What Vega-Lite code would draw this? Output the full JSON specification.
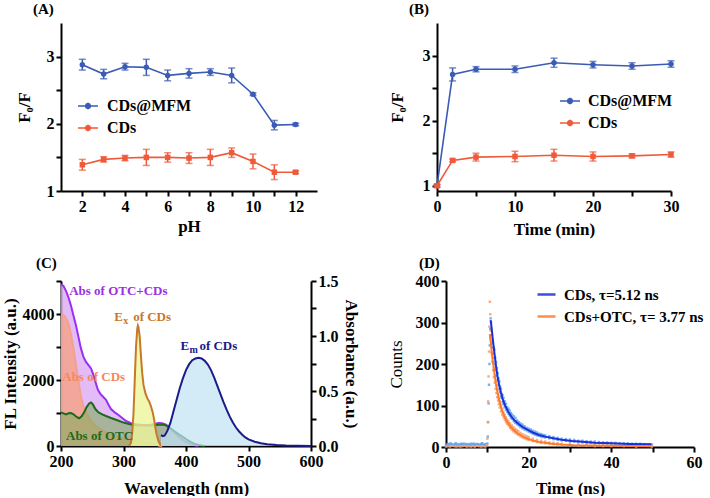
{
  "$schema": "https://vega.github.io/schema/vega-lite/v6.json",
  "padding": {"left": 1, "top": 2, "right": 0, "bottom": 0},
  "config": {
    "font": "Liberation Serif",
    "view": {"stroke": null},
    "axis": {"domainColor": "#000", "domainWidth": 2, "tickColor": "#000", "tickWidth": 2, "tickSize": 5, "labelFont": "Liberation Serif", "labelFontWeight": "bold", "labelFontSize": 16, "labelColor": "#000", "titleFont": "Liberation Serif", "titleFontWeight": "bold", "titleFontSize": 17, "titleColor": "#000", "grid": false, "labelPadding": 2, "titlePadding": 8, "labelFlush": false, "labelOverlap": false},
    "title": {"font": "Liberation Serif", "fontSize": 15, "fontWeight": "bold", "anchor": "start", "frame": "group", "color": "#000", "offset": 6},
    "legend": {"labelFont": "Liberation Serif", "labelFontWeight": "bold", "labelColor": "#000", "title": null}
  },
  "datasets": {
    "ph": [
      {"pH": 2, "series": "CDs@MFM", "value": 2.88, "err": 0.08},
      {"pH": 3, "series": "CDs@MFM", "value": 2.74, "err": 0.07},
      {"pH": 4, "series": "CDs@MFM", "value": 2.85, "err": 0.05},
      {"pH": 5, "series": "CDs@MFM", "value": 2.84, "err": 0.12},
      {"pH": 6, "series": "CDs@MFM", "value": 2.72, "err": 0.08},
      {"pH": 7, "series": "CDs@MFM", "value": 2.75, "err": 0.07},
      {"pH": 8, "series": "CDs@MFM", "value": 2.77, "err": 0.05},
      {"pH": 9, "series": "CDs@MFM", "value": 2.72, "err": 0.11},
      {"pH": 10, "series": "CDs@MFM", "value": 2.44, "err": 0.02},
      {"pH": 11, "series": "CDs@MFM", "value": 1.98, "err": 0.07},
      {"pH": 12, "series": "CDs@MFM", "value": 1.99, "err": 0.02},
      {"pH": 2, "series": "CDs", "value": 1.39, "err": 0.08},
      {"pH": 3, "series": "CDs", "value": 1.47, "err": 0.04},
      {"pH": 4, "series": "CDs", "value": 1.49, "err": 0.04},
      {"pH": 5, "series": "CDs", "value": 1.5, "err": 0.12},
      {"pH": 6, "series": "CDs", "value": 1.5, "err": 0.07},
      {"pH": 7, "series": "CDs", "value": 1.49, "err": 0.08},
      {"pH": 8, "series": "CDs", "value": 1.5, "err": 0.12},
      {"pH": 9, "series": "CDs", "value": 1.57, "err": 0.07},
      {"pH": 10, "series": "CDs", "value": 1.44, "err": 0.11},
      {"pH": 11, "series": "CDs", "value": 1.28, "err": 0.11},
      {"pH": 12, "series": "CDs", "value": 1.28, "err": 0.02}
    ],
    "time": [
      {"t": 0, "series": "CDs@MFM", "value": 1.0, "err": 0.02},
      {"t": 2, "series": "CDs@MFM", "value": 2.71, "err": 0.1},
      {"t": 5, "series": "CDs@MFM", "value": 2.79, "err": 0.04},
      {"t": 10, "series": "CDs@MFM", "value": 2.79, "err": 0.05},
      {"t": 15, "series": "CDs@MFM", "value": 2.89, "err": 0.07},
      {"t": 20, "series": "CDs@MFM", "value": 2.86, "err": 0.05},
      {"t": 25, "series": "CDs@MFM", "value": 2.84, "err": 0.05},
      {"t": 30, "series": "CDs@MFM", "value": 2.87, "err": 0.05},
      {"t": 0, "series": "CDs", "value": 1.0, "err": 0.02},
      {"t": 2, "series": "CDs", "value": 1.39, "err": 0.02},
      {"t": 5, "series": "CDs", "value": 1.44, "err": 0.06},
      {"t": 10, "series": "CDs", "value": 1.45, "err": 0.08},
      {"t": 15, "series": "CDs", "value": 1.47, "err": 0.09},
      {"t": 20, "series": "CDs", "value": 1.45, "err": 0.07},
      {"t": 25, "series": "CDs", "value": 1.46, "err": 0.03},
      {"t": 30, "series": "CDs", "value": 1.48, "err": 0.04}
    ],
    "abs": [
      {"wl": 200, "curve": "OTC+CDs", "a": 1.47}, {"wl": 204, "curve": "OTC+CDs", "a": 1.455}, {"wl": 208, "curve": "OTC+CDs", "a": 1.41}, {"wl": 212, "curve": "OTC+CDs", "a": 1.35}, {"wl": 216, "curve": "OTC+CDs", "a": 1.275}, {"wl": 220, "curve": "OTC+CDs", "a": 1.185}, {"wl": 224, "curve": "OTC+CDs", "a": 1.095}, {"wl": 228, "curve": "OTC+CDs", "a": 0.99}, {"wl": 232, "curve": "OTC+CDs", "a": 0.885}, {"wl": 236, "curve": "OTC+CDs", "a": 0.81}, {"wl": 240, "curve": "OTC+CDs", "a": 0.765}, {"wl": 244, "curve": "OTC+CDs", "a": 0.735}, {"wl": 248, "curve": "OTC+CDs", "a": 0.705}, {"wl": 251, "curve": "OTC+CDs", "a": 0.66}, {"wl": 255, "curve": "OTC+CDs", "a": 0.585}, {"wl": 259, "curve": "OTC+CDs", "a": 0.51}, {"wl": 263, "curve": "OTC+CDs", "a": 0.474}, {"wl": 267, "curve": "OTC+CDs", "a": 0.45}, {"wl": 272, "curve": "OTC+CDs", "a": 0.42}, {"wl": 276, "curve": "OTC+CDs", "a": 0.375}, {"wl": 280, "curve": "OTC+CDs", "a": 0.336}, {"wl": 286, "curve": "OTC+CDs", "a": 0.306}, {"wl": 292, "curve": "OTC+CDs", "a": 0.282}, {"wl": 298, "curve": "OTC+CDs", "a": 0.255}, {"wl": 304, "curve": "OTC+CDs", "a": 0.228}, {"wl": 312, "curve": "OTC+CDs", "a": 0.207}, {"wl": 320, "curve": "OTC+CDs", "a": 0.198}, {"wl": 330, "curve": "OTC+CDs", "a": 0.192}, {"wl": 341, "curve": "OTC+CDs", "a": 0.192}, {"wl": 350, "curve": "OTC+CDs", "a": 0.201}, {"wl": 356, "curve": "OTC+CDs", "a": 0.21}, {"wl": 362, "curve": "OTC+CDs", "a": 0.207}, {"wl": 368, "curve": "OTC+CDs", "a": 0.195}, {"wl": 373, "curve": "OTC+CDs", "a": 0.171}, {"wl": 380, "curve": "OTC+CDs", "a": 0.129}, {"wl": 390, "curve": "OTC+CDs", "a": 0.075}, {"wl": 400, "curve": "OTC+CDs", "a": 0.036}, {"wl": 410, "curve": "OTC+CDs", "a": 0.012}, {"wl": 420, "curve": "OTC+CDs", "a": 0},
      {"wl": 200, "curve": "CDs", "a": 1.2}, {"wl": 204, "curve": "CDs", "a": 1.19}, {"wl": 208, "curve": "CDs", "a": 1.164}, {"wl": 212, "curve": "CDs", "a": 1.11}, {"wl": 216, "curve": "CDs", "a": 1.014}, {"wl": 220, "curve": "CDs", "a": 0.885}, {"wl": 224, "curve": "CDs", "a": 0.735}, {"wl": 228, "curve": "CDs", "a": 0.585}, {"wl": 232, "curve": "CDs", "a": 0.45}, {"wl": 236, "curve": "CDs", "a": 0.36}, {"wl": 240, "curve": "CDs", "a": 0.306}, {"wl": 245, "curve": "CDs", "a": 0.255}, {"wl": 250, "curve": "CDs", "a": 0.216}, {"wl": 258, "curve": "CDs", "a": 0.174}, {"wl": 266, "curve": "CDs", "a": 0.141}, {"wl": 275, "curve": "CDs", "a": 0.114}, {"wl": 285, "curve": "CDs", "a": 0.093}, {"wl": 295, "curve": "CDs", "a": 0.075}, {"wl": 310, "curve": "CDs", "a": 0.057}, {"wl": 325, "curve": "CDs", "a": 0.042}, {"wl": 340, "curve": "CDs", "a": 0.027}, {"wl": 350, "curve": "CDs", "a": 0.015}, {"wl": 358, "curve": "CDs", "a": 0.003}, {"wl": 362, "curve": "CDs", "a": 0},
      {"wl": 200, "curve": "OTC", "a": 0.306}, {"wl": 204, "curve": "OTC", "a": 0.297}, {"wl": 208, "curve": "OTC", "a": 0.288}, {"wl": 212, "curve": "OTC", "a": 0.297}, {"wl": 216, "curve": "OTC", "a": 0.3}, {"wl": 220, "curve": "OTC", "a": 0.288}, {"wl": 225, "curve": "OTC", "a": 0.264}, {"wl": 229, "curve": "OTC", "a": 0.252}, {"wl": 233, "curve": "OTC", "a": 0.27}, {"wl": 237, "curve": "OTC", "a": 0.306}, {"wl": 241, "curve": "OTC", "a": 0.354}, {"wl": 245, "curve": "OTC", "a": 0.387}, {"wl": 248, "curve": "OTC", "a": 0.396}, {"wl": 251, "curve": "OTC", "a": 0.378}, {"wl": 255, "curve": "OTC", "a": 0.336}, {"wl": 260, "curve": "OTC", "a": 0.306}, {"wl": 266, "curve": "OTC", "a": 0.288}, {"wl": 272, "curve": "OTC", "a": 0.273}, {"wl": 280, "curve": "OTC", "a": 0.255}, {"wl": 290, "curve": "OTC", "a": 0.234}, {"wl": 300, "curve": "OTC", "a": 0.213}, {"wl": 310, "curve": "OTC", "a": 0.198}, {"wl": 320, "curve": "OTC", "a": 0.189}, {"wl": 335, "curve": "OTC", "a": 0.186}, {"wl": 350, "curve": "OTC", "a": 0.189}, {"wl": 360, "curve": "OTC", "a": 0.195}, {"wl": 366, "curve": "OTC", "a": 0.192}, {"wl": 372, "curve": "OTC", "a": 0.174}, {"wl": 380, "curve": "OTC", "a": 0.141}, {"wl": 388, "curve": "OTC", "a": 0.108}, {"wl": 396, "curve": "OTC", "a": 0.078}, {"wl": 404, "curve": "OTC", "a": 0.048}, {"wl": 412, "curve": "OTC", "a": 0.024}, {"wl": 420, "curve": "OTC", "a": 0.009}, {"wl": 430, "curve": "OTC", "a": 0}
    ],
    "fl": [
      {"wl": 309, "curve": "Ex", "v": 0}, {"wl": 312, "curve": "Ex", "v": 100}, {"wl": 314, "curve": "Ex", "v": 400}, {"wl": 316, "curve": "Ex", "v": 1000}, {"wl": 318, "curve": "Ex", "v": 2000}, {"wl": 320, "curve": "Ex", "v": 3000}, {"wl": 322, "curve": "Ex", "v": 3550}, {"wl": 323, "curve": "Ex", "v": 3650}, {"wl": 324, "curve": "Ex", "v": 3600}, {"wl": 326, "curve": "Ex", "v": 3300}, {"wl": 328, "curve": "Ex", "v": 2700}, {"wl": 330, "curve": "Ex", "v": 2200}, {"wl": 332, "curve": "Ex", "v": 1850}, {"wl": 335, "curve": "Ex", "v": 1600}, {"wl": 338, "curve": "Ex", "v": 1450}, {"wl": 341, "curve": "Ex", "v": 1350}, {"wl": 344, "curve": "Ex", "v": 1200}, {"wl": 347, "curve": "Ex", "v": 1000}, {"wl": 349, "curve": "Ex", "v": 800}, {"wl": 351, "curve": "Ex", "v": 550}, {"wl": 353, "curve": "Ex", "v": 350}, {"wl": 356, "curve": "Ex", "v": 150}, {"wl": 360, "curve": "Ex", "v": 0},
      {"wl": 360, "curve": "Em", "v": 330}, {"wl": 363, "curve": "Em", "v": 300}, {"wl": 366, "curve": "Em", "v": 320}, {"wl": 370, "curve": "Em", "v": 450}, {"wl": 375, "curve": "Em", "v": 700}, {"wl": 380, "curve": "Em", "v": 1050}, {"wl": 385, "curve": "Em", "v": 1400}, {"wl": 390, "curve": "Em", "v": 1750}, {"wl": 395, "curve": "Em", "v": 2050}, {"wl": 400, "curve": "Em", "v": 2300}, {"wl": 405, "curve": "Em", "v": 2480}, {"wl": 410, "curve": "Em", "v": 2600}, {"wl": 415, "curve": "Em", "v": 2650}, {"wl": 420, "curve": "Em", "v": 2670}, {"wl": 425, "curve": "Em", "v": 2650}, {"wl": 430, "curve": "Em", "v": 2580}, {"wl": 435, "curve": "Em", "v": 2470}, {"wl": 440, "curve": "Em", "v": 2300}, {"wl": 445, "curve": "Em", "v": 2080}, {"wl": 450, "curve": "Em", "v": 1830}, {"wl": 455, "curve": "Em", "v": 1580}, {"wl": 460, "curve": "Em", "v": 1330}, {"wl": 465, "curve": "Em", "v": 1100}, {"wl": 470, "curve": "Em", "v": 890}, {"wl": 475, "curve": "Em", "v": 710}, {"wl": 480, "curve": "Em", "v": 560}, {"wl": 485, "curve": "Em", "v": 440}, {"wl": 490, "curve": "Em", "v": 340}, {"wl": 495, "curve": "Em", "v": 260}, {"wl": 500, "curve": "Em", "v": 200}, {"wl": 510, "curve": "Em", "v": 130}, {"wl": 520, "curve": "Em", "v": 85}, {"wl": 530, "curve": "Em", "v": 55}, {"wl": 545, "curve": "Em", "v": 30}, {"wl": 560, "curve": "Em", "v": 15}, {"wl": 580, "curve": "Em", "v": 5}, {"wl": 600, "curve": "Em", "v": 2}
    ],
    "notes": [
      {"wl": 213, "v": 4700, "key": "OTC+CDs", "main": "Abs of OTC+CDs", "sub": "", "rest": ""},
      {"wl": 285, "v": 3900, "key": "Ex", "main": "E", "sub": "x", "rest": "of CDs"},
      {"wl": 391, "v": 3030, "key": "Em", "main": "E", "sub": "m", "rest": "of CDs"},
      {"wl": 202, "v": 2100, "key": "CDs", "main": "Abs of CDs", "sub": "", "rest": ""},
      {"wl": 208, "v": 300, "key": "OTC", "main": "Abs of OTC", "sub": "", "rest": ""}
    ],
    "fit": [
      {"t": 10.8, "c": 306, "s": "CDs"}, {"t": 11.0, "c": 290, "s": "CDs"}, {"t": 11.3, "c": 262, "s": "CDs"}, {"t": 11.7, "c": 228, "s": "CDs"}, {"t": 12.1, "c": 195, "s": "CDs"}, {"t": 12.5, "c": 168, "s": "CDs"}, {"t": 12.9, "c": 148, "s": "CDs"}, {"t": 13.3, "c": 131, "s": "CDs"}, {"t": 13.7, "c": 116, "s": "CDs"}, {"t": 14.3, "c": 100, "s": "CDs"}, {"t": 15.0, "c": 86, "s": "CDs"}, {"t": 15.7, "c": 75, "s": "CDs"}, {"t": 16.5, "c": 65, "s": "CDs"}, {"t": 17.5, "c": 56, "s": "CDs"}, {"t": 18.6, "c": 48, "s": "CDs"}, {"t": 19.8, "c": 41, "s": "CDs"}, {"t": 21.0, "c": 35, "s": "CDs"}, {"t": 22.5, "c": 29, "s": "CDs"}, {"t": 24.0, "c": 25, "s": "CDs"}, {"t": 26.0, "c": 21, "s": "CDs"}, {"t": 28.0, "c": 17.5, "s": "CDs"}, {"t": 30.5, "c": 14.5, "s": "CDs"}, {"t": 33.0, "c": 12.5, "s": "CDs"}, {"t": 36.0, "c": 10.5, "s": "CDs"}, {"t": 40.0, "c": 9, "s": "CDs"}, {"t": 44.0, "c": 7.5, "s": "CDs"}, {"t": 49.7, "c": 6.5, "s": "CDs"},
      {"t": 10.6, "c": 272, "s": "CDs+OTC"}, {"t": 10.8, "c": 255, "s": "CDs+OTC"}, {"t": 11.0, "c": 235, "s": "CDs+OTC"}, {"t": 11.3, "c": 208, "s": "CDs+OTC"}, {"t": 11.7, "c": 180, "s": "CDs+OTC"}, {"t": 12.1, "c": 152, "s": "CDs+OTC"}, {"t": 12.5, "c": 130, "s": "CDs+OTC"}, {"t": 12.9, "c": 112, "s": "CDs+OTC"}, {"t": 13.3, "c": 96, "s": "CDs+OTC"}, {"t": 13.7, "c": 84, "s": "CDs+OTC"}, {"t": 14.3, "c": 70, "s": "CDs+OTC"}, {"t": 15.0, "c": 58, "s": "CDs+OTC"}, {"t": 15.7, "c": 48, "s": "CDs+OTC"}, {"t": 16.5, "c": 40, "s": "CDs+OTC"}, {"t": 17.5, "c": 32, "s": "CDs+OTC"}, {"t": 18.6, "c": 25, "s": "CDs+OTC"}, {"t": 19.8, "c": 20, "s": "CDs+OTC"}, {"t": 21.0, "c": 15.5, "s": "CDs+OTC"}, {"t": 22.5, "c": 12, "s": "CDs+OTC"}, {"t": 24.0, "c": 10, "s": "CDs+OTC"}, {"t": 26.0, "c": 7.5, "s": "CDs+OTC"}, {"t": 28.0, "c": 6, "s": "CDs+OTC"}, {"t": 31.0, "c": 4.5, "s": "CDs+OTC"}, {"t": 35.0, "c": 3.5, "s": "CDs+OTC"}, {"t": 40.0, "c": 2.8, "s": "CDs+OTC"}, {"t": 45.0, "c": 2.3, "s": "CDs+OTC"}, {"t": 49.7, "c": 2, "s": "CDs+OTC"}
    ],
    "raw": [
      {"t": 0, "c": 5, "s": "CDs pts"}, {"t": 0.4, "c": 7, "s": "CDs pts"}, {"t": 0.8, "c": 4, "s": "CDs pts"}, {"t": 1.2, "c": 8, "s": "CDs pts"}, {"t": 1.6, "c": 6, "s": "CDs pts"}, {"t": 2, "c": 5, "s": "CDs pts"}, {"t": 2.4, "c": 9, "s": "CDs pts"}, {"t": 2.8, "c": 4, "s": "CDs pts"}, {"t": 3.2, "c": 6, "s": "CDs pts"}, {"t": 3.6, "c": 7, "s": "CDs pts"}, {"t": 4, "c": 5, "s": "CDs pts"}, {"t": 4.4, "c": 8, "s": "CDs pts"}, {"t": 4.8, "c": 6, "s": "CDs pts"}, {"t": 5.2, "c": 4, "s": "CDs pts"}, {"t": 5.6, "c": 7, "s": "CDs pts"}, {"t": 6, "c": 5, "s": "CDs pts"}, {"t": 6.4, "c": 6, "s": "CDs pts"}, {"t": 6.8, "c": 8, "s": "CDs pts"}, {"t": 7.2, "c": 5, "s": "CDs pts"}, {"t": 7.6, "c": 7, "s": "CDs pts"}, {"t": 8, "c": 4, "s": "CDs pts"}, {"t": 8.4, "c": 6, "s": "CDs pts"}, {"t": 8.8, "c": 9, "s": "CDs pts"}, {"t": 9.2, "c": 5, "s": "CDs pts"}, {"t": 9.6, "c": 6, "s": "CDs pts"},
      {"t": 0.2, "c": 3, "s": "CDs pts"}, {"t": 0.6, "c": 6, "s": "CDs pts"}, {"t": 1.0, "c": 8, "s": "CDs pts"}, {"t": 1.4, "c": 5, "s": "CDs pts"}, {"t": 1.8, "c": 4, "s": "CDs pts"}, {"t": 2.2, "c": 7, "s": "CDs pts"}, {"t": 2.6, "c": 5, "s": "CDs pts"}, {"t": 3.0, "c": 6, "s": "CDs pts"}, {"t": 3.4, "c": 3, "s": "CDs pts"}, {"t": 3.8, "c": 8, "s": "CDs pts"}, {"t": 4.2, "c": 6, "s": "CDs pts"}, {"t": 4.6, "c": 5, "s": "CDs pts"}, {"t": 5.0, "c": 7, "s": "CDs pts"}, {"t": 5.4, "c": 4, "s": "CDs pts"}, {"t": 5.8, "c": 6, "s": "CDs pts"}, {"t": 6.2, "c": 8, "s": "CDs pts"}, {"t": 6.6, "c": 5, "s": "CDs pts"}, {"t": 7.0, "c": 4, "s": "CDs pts"}, {"t": 7.4, "c": 7, "s": "CDs pts"}, {"t": 7.8, "c": 6, "s": "CDs pts"}, {"t": 8.2, "c": 5, "s": "CDs pts"}, {"t": 8.6, "c": 8, "s": "CDs pts"}, {"t": 9.0, "c": 4, "s": "CDs pts"}, {"t": 9.4, "c": 6, "s": "CDs pts"}, {"t": 9.8, "c": 7, "s": "CDs pts"},
      {"t": 10.0, "c": 8, "s": "CDs pts"}, {"t": 10.1, "c": 25, "s": "CDs pts"}, {"t": 10.2, "c": 60, "s": "CDs pts"}, {"t": 10.3, "c": 105, "s": "CDs pts"}, {"t": 10.4, "c": 150, "s": "CDs pts"}, {"t": 10.5, "c": 200, "s": "CDs pts"}, {"t": 10.6, "c": 245, "s": "CDs pts"}, {"t": 10.7, "c": 285, "s": "CDs pts"}, {"t": 10.8, "c": 310, "s": "CDs pts"},
      {"t": 10.9, "c": 300, "s": "CDs pts"}, {"t": 10.9, "c": 285, "s": "CDs pts"}, {"t": 11.1, "c": 270, "s": "CDs pts"}, {"t": 11.1, "c": 250, "s": "CDs pts"}, {"t": 11.3, "c": 255, "s": "CDs pts"}, {"t": 11.3, "c": 240, "s": "CDs pts"}, {"t": 11.5, "c": 240, "s": "CDs pts"}, {"t": 11.5, "c": 225, "s": "CDs pts"}, {"t": 11.7, "c": 235, "s": "CDs pts"}, {"t": 11.7, "c": 215, "s": "CDs pts"}, {"t": 11.9, "c": 215, "s": "CDs pts"}, {"t": 11.9, "c": 200, "s": "CDs pts"}, {"t": 12.1, "c": 205, "s": "CDs pts"}, {"t": 12.1, "c": 185, "s": "CDs pts"}, {"t": 12.3, "c": 190, "s": "CDs pts"}, {"t": 12.3, "c": 172, "s": "CDs pts"}, {"t": 12.5, "c": 178, "s": "CDs pts"}, {"t": 12.5, "c": 160, "s": "CDs pts"}, {"t": 12.7, "c": 165, "s": "CDs pts"}, {"t": 12.7, "c": 150, "s": "CDs pts"}, {"t": 12.9, "c": 158, "s": "CDs pts"}, {"t": 12.9, "c": 140, "s": "CDs pts"}, {"t": 13.1, "c": 145, "s": "CDs pts"}, {"t": 13.1, "c": 132, "s": "CDs pts"}, {"t": 13.3, "c": 140, "s": "CDs pts"}, {"t": 13.3, "c": 122, "s": "CDs pts"}, {"t": 13.5, "c": 128, "s": "CDs pts"}, {"t": 13.5, "c": 118, "s": "CDs pts"}, {"t": 13.7, "c": 125, "s": "CDs pts"}, {"t": 13.7, "c": 108, "s": "CDs pts"}, {"t": 13.9, "c": 118, "s": "CDs pts"}, {"t": 13.9, "c": 103, "s": "CDs pts"}, {"t": 14.2, "c": 110, "s": "CDs pts"}, {"t": 14.2, "c": 96, "s": "CDs pts"}, {"t": 14.5, "c": 104, "s": "CDs pts"}, {"t": 14.5, "c": 90, "s": "CDs pts"}, {"t": 14.8, "c": 96, "s": "CDs pts"}, {"t": 14.8, "c": 85, "s": "CDs pts"}, {"t": 15.1, "c": 92, "s": "CDs pts"}, {"t": 15.1, "c": 80, "s": "CDs pts"}, {"t": 15.4, "c": 88, "s": "CDs pts"}, {"t": 15.4, "c": 76, "s": "CDs pts"}, {"t": 15.7, "c": 82, "s": "CDs pts"}, {"t": 15.7, "c": 70, "s": "CDs pts"}, {"t": 16.0, "c": 78, "s": "CDs pts"}, {"t": 16.0, "c": 68, "s": "CDs pts"}, {"t": 16.4, "c": 74, "s": "CDs pts"}, {"t": 16.4, "c": 62, "s": "CDs pts"}, {"t": 16.8, "c": 70, "s": "CDs pts"}, {"t": 16.8, "c": 58, "s": "CDs pts"}, {"t": 17.2, "c": 64, "s": "CDs pts"}, {"t": 17.2, "c": 55, "s": "CDs pts"}, {"t": 17.6, "c": 60, "s": "CDs pts"}, {"t": 17.6, "c": 52, "s": "CDs pts"}, {"t": 18.0, "c": 57, "s": "CDs pts"}, {"t": 18.0, "c": 48, "s": "CDs pts"}, {"t": 18.5, "c": 54, "s": "CDs pts"}, {"t": 18.5, "c": 45, "s": "CDs pts"}, {"t": 19.0, "c": 50, "s": "CDs pts"}, {"t": 19.0, "c": 42, "s": "CDs pts"}, {"t": 19.5, "c": 46, "s": "CDs pts"}, {"t": 19.5, "c": 40, "s": "CDs pts"}, {"t": 20.0, "c": 44, "s": "CDs pts"}, {"t": 20.0, "c": 37, "s": "CDs pts"}, {"t": 20.5, "c": 42, "s": "CDs pts"}, {"t": 20.5, "c": 35, "s": "CDs pts"}, {"t": 21.0, "c": 39, "s": "CDs pts"}, {"t": 21.0, "c": 32, "s": "CDs pts"}, {"t": 21.5, "c": 37, "s": "CDs pts"}, {"t": 21.5, "c": 30, "s": "CDs pts"}, {"t": 22.0, "c": 35, "s": "CDs pts"}, {"t": 22.0, "c": 28, "s": "CDs pts"}, {"t": 22.5, "c": 32, "s": "CDs pts"}, {"t": 22.5, "c": 27, "s": "CDs pts"}, {"t": 23.0, "c": 31, "s": "CDs pts"}, {"t": 23.0, "c": 25, "s": "CDs pts"}, {"t": 23.5, "c": 29, "s": "CDs pts"}, {"t": 23.5, "c": 24, "s": "CDs pts"}, {"t": 24.0, "c": 28, "s": "CDs pts"}, {"t": 24.0, "c": 23, "s": "CDs pts"}, {"t": 25, "c": 26, "s": "CDs pts"}, {"t": 25, "c": 21, "s": "CDs pts"}, {"t": 26, "c": 24, "s": "CDs pts"}, {"t": 26, "c": 19, "s": "CDs pts"}, {"t": 27, "c": 22, "s": "CDs pts"}, {"t": 27, "c": 17, "s": "CDs pts"}, {"t": 28, "c": 20, "s": "CDs pts"}, {"t": 28, "c": 16, "s": "CDs pts"}, {"t": 29, "c": 19, "s": "CDs pts"}, {"t": 29, "c": 15, "s": "CDs pts"}, {"t": 30, "c": 18, "s": "CDs pts"}, {"t": 30, "c": 13, "s": "CDs pts"}, {"t": 31, "c": 17, "s": "CDs pts"}, {"t": 31, "c": 13, "s": "CDs pts"}, {"t": 32, "c": 15, "s": "CDs pts"}, {"t": 32, "c": 12, "s": "CDs pts"}, {"t": 33, "c": 15, "s": "CDs pts"}, {"t": 33, "c": 11, "s": "CDs pts"}, {"t": 34, "c": 14, "s": "CDs pts"}, {"t": 34, "c": 10, "s": "CDs pts"}, {"t": 35, "c": 13, "s": "CDs pts"}, {"t": 35, "c": 10, "s": "CDs pts"}, {"t": 36, "c": 13, "s": "CDs pts"}, {"t": 36, "c": 9, "s": "CDs pts"}, {"t": 37, "c": 12, "s": "CDs pts"}, {"t": 37, "c": 9, "s": "CDs pts"}, {"t": 38, "c": 11, "s": "CDs pts"}, {"t": 38, "c": 8, "s": "CDs pts"}, {"t": 39, "c": 11, "s": "CDs pts"}, {"t": 39, "c": 8, "s": "CDs pts"}, {"t": 40, "c": 10, "s": "CDs pts"}, {"t": 40, "c": 7, "s": "CDs pts"}, {"t": 41, "c": 10, "s": "CDs pts"}, {"t": 41, "c": 7, "s": "CDs pts"}, {"t": 42, "c": 9, "s": "CDs pts"}, {"t": 42, "c": 6, "s": "CDs pts"}, {"t": 43, "c": 9, "s": "CDs pts"}, {"t": 43, "c": 6, "s": "CDs pts"}, {"t": 44, "c": 9, "s": "CDs pts"}, {"t": 44, "c": 6, "s": "CDs pts"}, {"t": 45, "c": 8, "s": "CDs pts"}, {"t": 45, "c": 5, "s": "CDs pts"}, {"t": 46, "c": 8, "s": "CDs pts"}, {"t": 46, "c": 5, "s": "CDs pts"}, {"t": 47, "c": 8, "s": "CDs pts"}, {"t": 47, "c": 5, "s": "CDs pts"}, {"t": 48, "c": 7, "s": "CDs pts"}, {"t": 48, "c": 4, "s": "CDs pts"}, {"t": 49, "c": 7, "s": "CDs pts"}, {"t": 49, "c": 4, "s": "CDs pts"}, {"t": 49.8, "c": 6, "s": "CDs pts"}, {"t": 49.8, "c": 4, "s": "CDs pts"},
      {"t": 0, "c": 1, "s": "CDs+OTC pts"}, {"t": 0.5, "c": 2, "s": "CDs+OTC pts"}, {"t": 1, "c": 1, "s": "CDs+OTC pts"}, {"t": 1.5, "c": 3, "s": "CDs+OTC pts"}, {"t": 2, "c": 2, "s": "CDs+OTC pts"}, {"t": 2.5, "c": 1, "s": "CDs+OTC pts"}, {"t": 3, "c": 2, "s": "CDs+OTC pts"}, {"t": 3.5, "c": 1, "s": "CDs+OTC pts"}, {"t": 4, "c": 2, "s": "CDs+OTC pts"}, {"t": 4.5, "c": 3, "s": "CDs+OTC pts"}, {"t": 5, "c": 1, "s": "CDs+OTC pts"}, {"t": 5.5, "c": 2, "s": "CDs+OTC pts"}, {"t": 6, "c": 1, "s": "CDs+OTC pts"}, {"t": 6.5, "c": 2, "s": "CDs+OTC pts"}, {"t": 7, "c": 1, "s": "CDs+OTC pts"}, {"t": 7.5, "c": 3, "s": "CDs+OTC pts"}, {"t": 8, "c": 2, "s": "CDs+OTC pts"}, {"t": 8.5, "c": 1, "s": "CDs+OTC pts"}, {"t": 9, "c": 2, "s": "CDs+OTC pts"}, {"t": 9.5, "c": 1, "s": "CDs+OTC pts"},
      {"t": 9.9, "c": 5, "s": "CDs+OTC pts"}, {"t": 10.0, "c": 20, "s": "CDs+OTC pts"}, {"t": 10.1, "c": 60, "s": "CDs+OTC pts"}, {"t": 10.2, "c": 110, "s": "CDs+OTC pts"}, {"t": 10.3, "c": 170, "s": "CDs+OTC pts"}, {"t": 10.4, "c": 230, "s": "CDs+OTC pts"}, {"t": 10.5, "c": 290, "s": "CDs+OTC pts"}, {"t": 10.6, "c": 350, "s": "CDs+OTC pts"}, {"t": 10.7, "c": 320, "s": "CDs+OTC pts"},
      {"t": 10.8, "c": 280, "s": "CDs+OTC pts"}, {"t": 10.8, "c": 262, "s": "CDs+OTC pts"}, {"t": 11.0, "c": 250, "s": "CDs+OTC pts"}, {"t": 11.0, "c": 228, "s": "CDs+OTC pts"}, {"t": 11.2, "c": 225, "s": "CDs+OTC pts"}, {"t": 11.2, "c": 205, "s": "CDs+OTC pts"}, {"t": 11.4, "c": 205, "s": "CDs+OTC pts"}, {"t": 11.4, "c": 185, "s": "CDs+OTC pts"}, {"t": 11.6, "c": 190, "s": "CDs+OTC pts"}, {"t": 11.6, "c": 168, "s": "CDs+OTC pts"}, {"t": 11.8, "c": 172, "s": "CDs+OTC pts"}, {"t": 11.8, "c": 155, "s": "CDs+OTC pts"}, {"t": 12.0, "c": 160, "s": "CDs+OTC pts"}, {"t": 12.0, "c": 140, "s": "CDs+OTC pts"}, {"t": 12.2, "c": 148, "s": "CDs+OTC pts"}, {"t": 12.2, "c": 130, "s": "CDs+OTC pts"}, {"t": 12.4, "c": 138, "s": "CDs+OTC pts"}, {"t": 12.4, "c": 120, "s": "CDs+OTC pts"}, {"t": 12.6, "c": 128, "s": "CDs+OTC pts"}, {"t": 12.6, "c": 112, "s": "CDs+OTC pts"}, {"t": 12.8, "c": 118, "s": "CDs+OTC pts"}, {"t": 12.8, "c": 103, "s": "CDs+OTC pts"}, {"t": 13.0, "c": 110, "s": "CDs+OTC pts"}, {"t": 13.0, "c": 95, "s": "CDs+OTC pts"}, {"t": 13.3, "c": 100, "s": "CDs+OTC pts"}, {"t": 13.3, "c": 86, "s": "CDs+OTC pts"}, {"t": 13.6, "c": 92, "s": "CDs+OTC pts"}, {"t": 13.6, "c": 78, "s": "CDs+OTC pts"}, {"t": 13.9, "c": 84, "s": "CDs+OTC pts"}, {"t": 13.9, "c": 72, "s": "CDs+OTC pts"}, {"t": 14.2, "c": 78, "s": "CDs+OTC pts"}, {"t": 14.2, "c": 66, "s": "CDs+OTC pts"}, {"t": 14.5, "c": 72, "s": "CDs+OTC pts"}, {"t": 14.5, "c": 60, "s": "CDs+OTC pts"}, {"t": 14.8, "c": 66, "s": "CDs+OTC pts"}, {"t": 14.8, "c": 56, "s": "CDs+OTC pts"}, {"t": 15.1, "c": 62, "s": "CDs+OTC pts"}, {"t": 15.1, "c": 52, "s": "CDs+OTC pts"}, {"t": 15.5, "c": 57, "s": "CDs+OTC pts"}, {"t": 15.5, "c": 46, "s": "CDs+OTC pts"}, {"t": 15.9, "c": 52, "s": "CDs+OTC pts"}, {"t": 15.9, "c": 42, "s": "CDs+OTC pts"}, {"t": 16.3, "c": 48, "s": "CDs+OTC pts"}, {"t": 16.3, "c": 38, "s": "CDs+OTC pts"}, {"t": 16.7, "c": 44, "s": "CDs+OTC pts"}, {"t": 16.7, "c": 35, "s": "CDs+OTC pts"}, {"t": 17.1, "c": 41, "s": "CDs+OTC pts"}, {"t": 17.1, "c": 32, "s": "CDs+OTC pts"}, {"t": 17.5, "c": 38, "s": "CDs+OTC pts"}, {"t": 17.5, "c": 29, "s": "CDs+OTC pts"}, {"t": 18.0, "c": 34, "s": "CDs+OTC pts"}, {"t": 18.0, "c": 26, "s": "CDs+OTC pts"}, {"t": 18.5, "c": 31, "s": "CDs+OTC pts"}, {"t": 18.5, "c": 23, "s": "CDs+OTC pts"}, {"t": 19.0, "c": 28, "s": "CDs+OTC pts"}, {"t": 19.0, "c": 21, "s": "CDs+OTC pts"}, {"t": 19.5, "c": 26, "s": "CDs+OTC pts"}, {"t": 19.5, "c": 19, "s": "CDs+OTC pts"}, {"t": 20.0, "c": 24, "s": "CDs+OTC pts"}, {"t": 20.0, "c": 17, "s": "CDs+OTC pts"}, {"t": 21, "c": 20, "s": "CDs+OTC pts"}, {"t": 21, "c": 14, "s": "CDs+OTC pts"}, {"t": 22, "c": 17, "s": "CDs+OTC pts"}, {"t": 22, "c": 12, "s": "CDs+OTC pts"}, {"t": 23, "c": 15, "s": "CDs+OTC pts"}, {"t": 23, "c": 10, "s": "CDs+OTC pts"}, {"t": 24, "c": 13, "s": "CDs+OTC pts"}, {"t": 24, "c": 9, "s": "CDs+OTC pts"}, {"t": 25, "c": 11, "s": "CDs+OTC pts"}, {"t": 25, "c": 8, "s": "CDs+OTC pts"}, {"t": 26, "c": 10, "s": "CDs+OTC pts"}, {"t": 26, "c": 7, "s": "CDs+OTC pts"}, {"t": 27, "c": 9, "s": "CDs+OTC pts"}, {"t": 27, "c": 6, "s": "CDs+OTC pts"}, {"t": 28, "c": 8, "s": "CDs+OTC pts"}, {"t": 28, "c": 5, "s": "CDs+OTC pts"}, {"t": 30, "c": 7, "s": "CDs+OTC pts"}, {"t": 30, "c": 4, "s": "CDs+OTC pts"}, {"t": 32, "c": 6, "s": "CDs+OTC pts"}, {"t": 32, "c": 3, "s": "CDs+OTC pts"}, {"t": 34, "c": 5, "s": "CDs+OTC pts"}, {"t": 34, "c": 3, "s": "CDs+OTC pts"}, {"t": 36, "c": 5, "s": "CDs+OTC pts"}, {"t": 36, "c": 2, "s": "CDs+OTC pts"}, {"t": 38, "c": 4, "s": "CDs+OTC pts"}, {"t": 38, "c": 2, "s": "CDs+OTC pts"}, {"t": 40, "c": 4, "s": "CDs+OTC pts"}, {"t": 40, "c": 2, "s": "CDs+OTC pts"}, {"t": 43, "c": 3, "s": "CDs+OTC pts"}, {"t": 43, "c": 2, "s": "CDs+OTC pts"}, {"t": 46, "c": 3, "s": "CDs+OTC pts"}, {"t": 46, "c": 1, "s": "CDs+OTC pts"}, {"t": 49.8, "c": 3, "s": "CDs+OTC pts"}, {"t": 49.8, "c": 1, "s": "CDs+OTC pts"}
    ]
  },
  "columns": 1,
  "align": "none",
  "center": false,
  "spacing": 18,
  "resolve": {"scale": {"color": "independent"}, "legend": {"color": "independent"}},
  "concat": [
    {
      "spacing": 71,
      "center": false,
      "resolve": {"scale": {"color": "independent"}, "legend": {"color": "independent"}},
      "hconcat": [
        {
          "width": 256, "height": 168,
          "title": {"text": "(A)", "dx": -28},
          "data": {"name": "ph"},
          "encoding": {
            "x": {"field": "pH", "type": "quantitative", "scale": {"domain": [1, 13], "nice": false, "zero": false}, "axis": {"values": [2, 3, 4, 5, 6, 7, 8, 9, 10, 11, 12], "labelExpr": "datum.value % 2 === 0 ? datum.label : ''", "title": "pH", "titlePadding": 4}},
            "y": {"field": "value", "type": "quantitative", "scale": {"domain": [1, 3.5], "nice": false, "zero": false}, "axis": {"values": [1, 1.5, 2, 2.5, 3], "format": "~g", "labelExpr": "datum.value % 1 === 0 ? datum.label : ''", "title": "F₀/F", "titlePadding": 13}},
            "color": {"field": "series", "type": "nominal", "scale": {"domain": ["CDs@MFM", "CDs"], "range": ["#3b5bb5", "#ef5a3a"]},
              "legend": {"orient": "none", "legendX": 16, "legendY": 72, "title": null, "padding": 0, "labelFontSize": 16, "symbolSize": 400, "labelOffset": 8, "rowPadding": 3, "symbolStrokeWidth": 1.5, "symbolOpacity": 1,
                "symbolType": "M-1,0H1M0.26,0L0.18,0.18L0,0.26L-0.18,0.18L-0.26,0L-0.18,-0.18L0,-0.26L0.18,-0.18Z"}}
          },
          "layer": [
            {"mark": {"type": "errorbar", "ticks": true, "size": 7, "thickness": 1.5}, "encoding": {"yError": {"field": "err"}}},
            {"mark": {"type": "line", "strokeWidth": 1.6}},
            {"transform": [{"filter": "datum.series === 'CDs@MFM'"}], "mark": {"type": "circle", "size": 30, "opacity": 1}},
            {"transform": [{"filter": "datum.series === 'CDs'"}], "mark": {"type": "square", "size": 30, "opacity": 1}}
          ]
        },
        {
          "width": 234, "height": 168,
          "title": {"text": "(B)", "dx": -28},
          "data": {"name": "time"},
          "encoding": {
            "x": {"field": "t", "type": "quantitative", "scale": {"domain": [0, 30], "nice": false, "zero": false}, "axis": {"values": [0, 5, 10, 15, 20, 25, 30], "labelExpr": "datum.value % 10 === 0 ? datum.label : ''", "title": "Time (min)", "titlePadding": 7}},
            "y": {"field": "value", "type": "quantitative", "scale": {"domain": [0.92, 3.5], "nice": false, "zero": false}, "axis": {"values": [1, 1.5, 2, 2.5, 3], "format": "~g", "labelExpr": "datum.value % 1 === 0 ? datum.label : ''", "title": "F₀/F", "titlePadding": 16}},
            "color": {"field": "series", "type": "nominal", "scale": {"domain": ["CDs@MFM", "CDs"], "range": ["#3b5bb5", "#ef5a3a"]},
              "legend": {"orient": "none", "legendX": 92, "legendY": 37, "title": null, "padding": 30, "labelFontSize": 16, "symbolSize": 400, "labelOffset": 7, "rowPadding": 3, "symbolStrokeWidth": 1.5, "symbolOpacity": 1,
                "symbolType": "M-1,0H1M0.26,0L0.18,0.18L0,0.26L-0.18,0.18L-0.26,0L-0.18,-0.18L0,-0.26L0.18,-0.18Z"}}
          },
          "layer": [
            {"mark": {"type": "errorbar", "ticks": true, "size": 7, "thickness": 1.5}, "encoding": {"yError": {"field": "err"}}},
            {"mark": {"type": "line", "strokeWidth": 1.6}},
            {"transform": [{"filter": "datum.series === 'CDs@MFM'"}], "mark": {"type": "circle", "size": 30, "opacity": 1}},
            {"transform": [{"filter": "datum.series === 'CDs'"}], "mark": {"type": "square", "size": 30, "opacity": 1}}
          ]
        }
      ]
    },
    {
      "spacing": 28,
      "center": false,
      "resolve": {"scale": {"color": "independent"}, "legend": {"color": "independent"}},
      "hconcat": [
        {
          "width": 250, "height": 165,
          "title": {"text": "(C)", "dx": -25, "offset": 2.5},
          "layer": [
            {
              "data": {"name": "abs"},
              "encoding": {
                "x": {"field": "wl", "type": "quantitative", "scale": {"domain": [200, 600], "nice": false, "zero": false}, "axis": {"values": [200, 300, 400, 500, 600], "title": "Wavelength (nm)", "titlePadding": 11}},
                "y": {"field": "a", "type": "quantitative", "scale": {"domain": [0, 1.5], "nice": false}, "axis": {"orient": "right", "values": [0, 0.25, 0.5, 0.75, 1, 1.25, 1.5], "format": ".1f", "labelExpr": "datum.value * 2 % 1 === 0 ? datum.label : ''", "title": "Absorbance (a.u.)", "titlePadding": 3}}
              },
              "layer": [
                {"transform": [{"filter": "datum.curve === 'OTC+CDs'"}], "mark": {"type": "area", "color": "#dcaaf5", "fillOpacity": 0.8, "line": {"color": "#9b30f0", "strokeWidth": 2}}},
                {"transform": [{"filter": "datum.curve === 'CDs'"}], "mark": {"type": "area", "color": "#f5a286", "fillOpacity": 0.8, "line": {"color": "#f5a08c", "strokeWidth": 2}}},
                {"transform": [{"filter": "datum.curve === 'OTC'"}], "mark": {"type": "area", "color": "#78ad55", "fillOpacity": 0.55, "line": {"color": "#1d6a1d", "strokeWidth": 2}}}
              ]
            },
            {
              "encoding": {
                "x": {"field": "wl", "type": "quantitative"},
                "y": {"field": "v", "type": "quantitative", "scale": {"domain": [0, 5000], "nice": false}, "axis": {"orient": "left", "values": [0, 1000, 2000, 3000, 4000, 5000], "format": "d", "labelExpr": "datum.value % 2000 === 0 ? datum.label : ''", "title": "FL Intensity (a.u.)", "titlePadding": 3}}
              },
              "layer": [
                {"data": {"name": "fl"}, "transform": [{"filter": "datum.curve === 'Ex'"}], "mark": {"type": "area", "color": "#eef59a", "fillOpacity": 0.8, "line": {"color": "#c8782a", "strokeWidth": 2}}},
                {"data": {"name": "fl"}, "transform": [{"filter": "datum.curve === 'Em'"}], "mark": {"type": "area", "color": "#bfe3f3", "fillOpacity": 0.7, "line": {"color": "#1b1b8a", "strokeWidth": 2}}},
                {"data": {"name": "notes"}, "mark": {"type": "text", "align": "left", "baseline": "middle", "fontWeight": "bold", "fontSize": 13, "font": "Liberation Serif"},
                  "encoding": {"text": {"field": "main"}, "color": {"field": "key", "type": "nominal", "scale": {"domain": ["OTC+CDs", "Ex", "Em", "CDs", "OTC"], "range": ["#9b30e0", "#c8782a", "#1b1b8a", "#f5875f", "#1d6a1d"]}, "legend": null}}},
                {"data": {"name": "notes"}, "mark": {"type": "text", "align": "left", "baseline": "middle", "fontWeight": "bold", "fontSize": 10, "font": "Liberation Serif", "dx": 9, "dy": 4},
                  "encoding": {"text": {"field": "sub"}, "color": {"field": "key", "type": "nominal", "legend": null}}},
                {"data": {"name": "notes"}, "mark": {"type": "text", "align": "left", "baseline": "middle", "fontWeight": "bold", "fontSize": 13, "font": "Liberation Serif", "dx": 19},
                  "encoding": {"text": {"field": "rest"}, "color": {"field": "key", "type": "nominal", "legend": null}}}
              ]
            }
          ],
          "resolve": {"scale": {"y": "independent"}}
        },
        {
          "width": 248, "height": 166,
          "title": {"text": "(D)", "dx": -27, "offset": 2.5},
          "encoding": {
            "x": {"field": "t", "type": "quantitative", "scale": {"domain": [0, 60], "nice": false}, "axis": {"values": [0, 10, 20, 30, 40, 50, 60], "labelExpr": "datum.value % 20 === 0 ? datum.label : ''", "title": "Time (ns)", "titlePadding": 10}},
            "y": {"field": "c", "type": "quantitative", "scale": {"domain": [0, 400], "nice": false}, "axis": {"values": [0, 100, 200, 300, 400], "title": "Counts", "titleFontWeight": "normal", "titlePadding": 10}},
            "color": {"field": "s", "type": "nominal", "scale": {"domain": ["CDs", "CDs+OTC", "CDs pts", "CDs+OTC pts"], "range": ["#1c2fd6", "#ff7a2a", "#5aa5f5", "#f6a070"]},
              "legend": {"values": ["CDs", "CDs+OTC"], "orient": "none", "legendX": 90, "legendY": 3, "title": null, "padding": 0, "labelFontSize": 15, "symbolType": "stroke", "symbolSize": 324, "symbolStrokeWidth": 2.5, "labelOffset": 7, "rowPadding": 3,
                "labelExpr": "datum.label === 'CDs' ? 'CDs, τ=5.12 ns' : 'CDs+OTC, τ= 3.77 ns'"}}
          },
          "layer": [
            {"data": {"name": "raw"}, "mark": {"type": "square", "size": 6, "opacity": 0.85}},
            {"data": {"name": "fit"}, "mark": {"type": "line", "strokeWidth": 2}}
          ]
        }
      ]
    }
  ]
}
